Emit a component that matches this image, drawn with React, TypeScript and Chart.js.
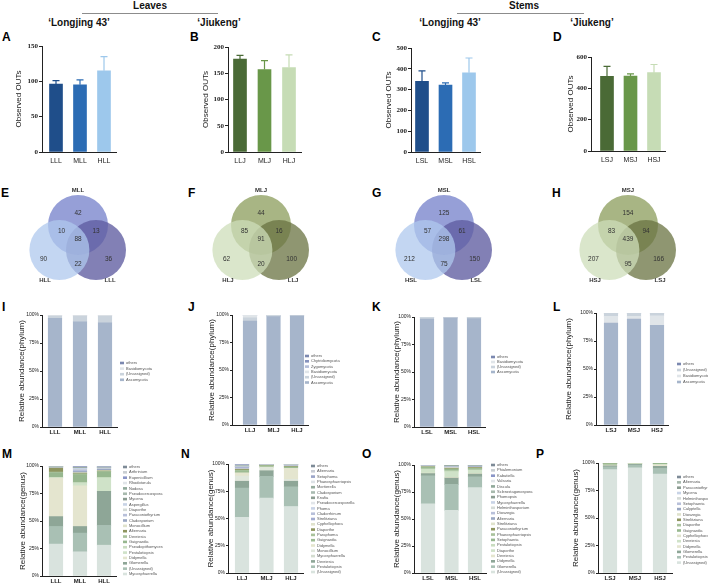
import React, { useEffect, useRef } from 'react';
import { Chart, registerables } from 'chart.js';

Chart.register(...registerables);

const SANS = '"Liberation Sans", Arial, Helvetica, sans-serif';
const SERIF = '"Liberation Serif", "Times New Roman", serif';
Chart.defaults.font.family = SANS;

// ================= DATA =================
// Row 1: observed OTUs (mean and SD)
const leafLongjingGroups = ['LLL', 'MLL', 'HLL'];
const leafLongjingOTUs = [96, 95, 115];
const leafLongjingSD = [5, 7, 20];
const leafJiukengGroups = ['LLJ', 'MLJ', 'HLJ'];
const leafJiukengOTUs = [177, 157, 161];
const leafJiukengSD = [7, 17, 24];
const stemLongjingGroups = ['LSL', 'MSL', 'HSL'];
const stemLongjingOTUs = [340, 322, 381];
const stemLongjingSD = [50, 10, 71];
const stemJiukengGroups = ['LSJ', 'MSJ', 'HSJ'];
const stemJiukengOTUs = [476, 479, 500];
const stemJiukengSD = [64, 13, 52];
const otuAxisMax = [150, 200, 500, 600];
const otuAxisStep = [50, 50, 100, 200];

// Row 2: Venn counts, regions: [top only, top&left, top&right, all, left only, left&right, right only]
const vennSetsE = ['MLL', 'HLL', 'LLL'];
const vennCountsE = [42, 10, 13, 88, 90, 22, 36];
const vennSetsF = ['MLJ', 'HLJ', 'LLJ'];
const vennCountsF = [44, 85, 16, 91, 62, 20, 100];
const vennSetsG = ['MSL', 'HSL', 'LSL'];
const vennCountsG = [125, 57, 61, 298, 212, 75, 150];
const vennSetsH = ['MSJ', 'HSJ', 'LSJ'];
const vennCountsH = [154, 83, 94, 439, 207, 95, 166];

// Row 3: phylum relative abundance (%), series listed bottom -> top
const phylumNamesI = ['Ascomycota', '(Unassigned)', 'Basidiomycota', 'others'];
const phylumValuesI = [[97, 94, 93], [2, 5, 6], [0.8, 0.8, 0.8], [0.2, 0.2, 0.2]];
const phylumNamesJ = ['Ascomycota', '(Unassigned)', 'Basidiomycota', 'Zygomycota', 'Chytridiomycota', 'others'];
const phylumValuesJ = [[94.5, 98.5, 99], [3, 1, 0.6], [2.2, 0.4, 0.3], [0.1, 0.03, 0.03], [0.1, 0.03, 0.03], [0.1, 0.04, 0.04]];
const phylumNamesK = ['Ascomycota', '(Unassigned)', 'Basidiomycota', 'others'];
const phylumValuesK = [[98, 99, 98.5], [1.5, 0.8, 1.2], [0.4, 0.15, 0.25], [0.1, 0.05, 0.05]];
const phylumNamesL = ['Ascomycota', 'Basidiomycota', '(Unassigned)', 'others'];
const phylumValuesL = [[91, 94.5, 89], [6, 2.5, 8.5], [2.9, 2.9, 2.4], [0.1, 0.1, 0.1]];

// Row 4: genus relative abundance (%), series listed bottom -> top
const genusNamesM = ['Mycosphaerella', '(Unassigned)', 'Glomerella', 'Didymella', 'Pestalotiopsis', 'Pseudopithomyces', 'Guignardia', 'Devriesia', 'Alternaria', 'Monocillium', 'Cladosporium', 'Paraconiothyrium', 'Diaporthe', 'Aspergillus', 'Mycena', 'Pseudocercospora', 'Nodosa', 'Rhodotorula', 'Eupenicillium', 'Arthrinium', 'others'];
const genusValuesM = [[29, 22, 28], [16, 17, 18], [9, 6, 31], [35, 37, 0], [0.3, 2, 12], [0.3, 1, 0.5], [4, 7, 5], [0.9, 1, 0.5], [3.5, 0.5, 0.5], [0.3, 0.5, 0.5], [0.3, 1, 1], [0.2, 1.5, 0.5], [0.2, 0.5, 0.3], [0.1, 1, 0.5], [0.1, 0.3, 0.2], [0.2, 0.2, 0.3], [0.1, 0.2, 0.2], [0.1, 0.1, 0.2], [0.2, 0.5, 0.5], [0.1, 0.2, 0.2], [0.1, 0.5, 0.1]];
const genusNamesN = ['(Unassigned)', 'Pestalotiopsis', 'Devriesia', 'Mycosphaerella', 'Monocillium', 'Didymella', 'Guignardia', 'Paraphoma', 'Diaporthe', 'Cyphellophora', 'Strelitziana', 'Cladorrhinum', 'Phoma', 'Pseudocercosporella', 'Knufia', 'Cladosporium', 'Mortierella', 'Phaeosphaeriopsis', 'Setophoma', 'Alternaria', 'others'];
const genusValuesN = [[51, 68.7, 61], [27, 20, 18], [6, 5, 5], [0.5, 0.5, 0.5], [4.5, 2.5, 1.5], [3, 0.5, 10], [1.5, 1, 1], [1, 0.3, 0.5], [0.5, 0.2, 0.3], [0.5, 0.2, 0.3], [1, 0.1, 0.2], [0.5, 0.1, 0.2], [0.3, 0.1, 0.5], [0.2, 0.1, 0.2], [0.3, 0.1, 0.1], [0.3, 0.1, 0.2], [0.2, 0.1, 0.1], [0.2, 0.1, 0.1], [1, 0.1, 0.1], [0.3, 0.1, 0.1], [0.2, 0.1, 0.1]];
const genusNamesO = ['(Unassigned)', 'Glomerella', 'Didymella', 'Devriesia', 'Diaporthe', 'Pestalotiopsis', 'Setophaeria', 'Phaeosphaeriopsis', 'Paraconiothyrium', 'Strelitziana', 'Alternaria', 'Dioszegia', 'Helminthosporium', 'Mycosphaerella', 'Phomopsis', 'Sclerostagonospora', 'Discula', 'Valsaria', 'Kabatiella', 'Phialemonium', 'others'];
const genusValuesO = [[64, 58, 79], [26, 24, 10], [2, 6, 2.5], [0.5, 0.5, 0.5], [3.5, 5, 3], [0.5, 1, 0.5], [1, 1.5, 1], [0.5, 0.5, 0.5], [0.3, 0.5, 0.5], [0.3, 0.5, 0.3], [0.3, 0.5, 0.5], [0.2, 0.3, 0.2], [0.2, 0.3, 0.2], [0.1, 0.2, 0.2], [0.1, 0.2, 0.2], [0.1, 0.2, 0.2], [0.1, 0.2, 0.2], [0.1, 0.1, 0.1], [0.1, 0.1, 0.1], [0.1, 0.1, 0.1], [0, 0.2, 0.2]];
const genusNamesP = ['(Unassigned)', 'Pestalotiopsis', 'Glomerella', 'Didymella', 'Devriesia', 'Cyphellophora', 'Guignardia', 'Diaporthe', 'Strelitziana', 'Dioszegia', 'Calyptella', 'Setophaeria', 'Helminthosporium', 'Mycena', 'Paraconiothyrium', 'Alternaria', 'others'];
const genusValuesP = [[94, 95.5, 90], [2.5, 2.5, 5], [1, 0.8, 2], [0.3, 0.2, 1], [0.2, 0.2, 0.5], [0.2, 0.1, 0.3], [1, 0.5, 0.8], [0.2, 0.1, 0.1], [0.1, 0.1, 0.05], [0.1, 0, 0.05], [0.1, 0, 0.05], [0.1, 0, 0.05], [0.05, 0, 0.05], [0.05, 0, 0.05], [0.05, 0, 0], [0.05, 0, 0], [0, 0.1, 0]];
const abundanceTicks = [0, 25, 50, 75, 100];

// ================= STYLES =================
const blueBars = ['#1f4e8a', '#2c6cb4', '#9dc8ec'];
const greenBars = ['#4a6a36', '#699749', '#c6dcb5'];
const phylumColors: Record<string, string> = {
  Ascomycota: '#a6b5cb', '(Unassigned)': '#cad3dc', Basidiomycota: '#e0e5e9',
  Zygomycota: '#b3bdd8', Chytridiomycota: '#8793bd', others: '#7b88b0',
};
const genusPalette = ['#d9e3de', '#a9c0b4', '#8ea697', '#e4e5cf', '#cfe2c8', '#c9dcc0', '#97b78f', '#a9c29c', '#8e955f', '#dfe2cc', '#9aa7c2', '#b8c0da', '#d5dbd7', '#c8d3e6', '#8b9c91', '#a7b9ad', '#90a99a', '#e1e5e9', '#8a95c7', '#c9ced2', '#7e8b97'];
const genusPaletteN = ['#d9e3de', '#a9c0b4', '#8ea697', '#d3dccf', '#e0e7dc', '#e4e5cf', '#9cbb93', '#a9c29c', '#8e955f', '#dfe2cc', '#a3acd0', '#b7bfd9', '#c9d3e6', '#e2e6ea', '#8d9d92', '#a8bab0', '#95ab9d', '#dde2e6', '#9aa4c8', '#c8ccd4', '#7e8b97'];
const genusPaletteP = ['#d9e3de', '#a9c0b4', '#8ea697', '#e4e5cf', '#cfe2c8', '#dfe2cc', '#98b88f', '#a9c29c', '#8e955f', '#dfe2cc', '#9aa7c2', '#b8c0da', '#d5dbd7', '#c8d3e6', '#8b9c91', '#a7b9ad', '#7e8b97'];
const vennBlue = ['rgba(175,200,238,0.75)', 'rgba(95,92,160,0.78)', 'rgba(110,122,200,0.72)']; // left, right, top
const vennGreen = ['rgba(205,222,185,0.75)', 'rgba(105,115,65,0.75)', 'rgba(135,152,85,0.72)'];

// Venn geometry (unit = circle radius), order: top, left, right
const vennCircleCenters = [[0, 0.57], [-0.62, -0.27], [0.6, -0.27]];
const vennRegionPos = [[0, 0.97], [-0.55, 0.37], [0.6, 0.37], [0, 0.1], [-1.15, -0.57], [0, -0.73], [1.02, -0.57]];
const vennNamePos = [[0, 1.73], [-1.1, -1.27], [1.07, -1.27]];

// ================= PLUGINS =================
const errorBarPlugin = {
  id: 'errorBars',
  afterDatasetsDraw(chart: any, _a: any, opts: any) {
    if (!opts || !opts.sd) return;
    const meta = chart.getDatasetMeta(0);
    const ys = chart.scales.y;
    const ctx = chart.ctx;
    const data = chart.data.datasets[0].data;
    ctx.save();
    meta.data.forEach((bar: any, i: number) => {
      const yTop = ys.getPixelForValue(data[i].y + opts.sd[i]);
      ctx.strokeStyle = opts.colors[i];
      ctx.lineWidth = 1.2;
      ctx.beginPath();
      ctx.moveTo(bar.x, bar.y);
      ctx.lineTo(bar.x, yTop);
      ctx.moveTo(bar.x - 3.5, yTop);
      ctx.lineTo(bar.x + 3.5, yTop);
      ctx.stroke();
    });
    ctx.restore();
  },
};

const sideLegendPlugin = {
  id: 'sideLegend',
  afterDraw(chart: any, _a: any, o: any) {
    if (!o || o.x === undefined) return;
    const ctx = chart.ctx;
    const ds = chart.data.datasets;
    ctx.save();
    ctx.font = `4px ${SANS}`;
    ctx.textBaseline = 'middle';
    ctx.textAlign = 'left';
    for (let k = 0; k < ds.length; k++) {
      const d = ds[ds.length - 1 - k];
      const y = o.y - o.top + k * o.step;
      const x = o.x - o.left;
      ctx.fillStyle = d.backgroundColor;
      ctx.fillRect(x, y - 1.3, 4, 2.6);
      ctx.fillStyle = '#555';
      ctx.fillText(d.label, x + 6, y);
    }
    ctx.restore();
  },
};

const vennTextPlugin = {
  id: 'vennText',
  afterDatasetsDraw(chart: any, _a: any, o: any) {
    if (!o || !o.counts) return;
    const xs = chart.scales.x;
    const ys = chart.scales.y;
    const ctx = chart.ctx;
    ctx.save();
    ctx.textAlign = 'center';
    ctx.textBaseline = 'middle';
    ctx.fillStyle = '#333';
    ctx.font = `6.5px ${SANS}`;
    o.counts.forEach((c: number, i: number) => {
      ctx.fillText(String(c), xs.getPixelForValue(vennRegionPos[i][0]), ys.getPixelForValue(vennRegionPos[i][1]));
    });
    ctx.font = `bold 6px ${SANS}`;
    o.names.forEach((n: string, i: number) => {
      ctx.fillText(n, xs.getPixelForValue(vennNamePos[i][0]), ys.getPixelForValue(vennNamePos[i][1]));
    });
    ctx.restore();
  },
};

// ================= BUILDERS =================
type Box = { left: number; top: number; width: number; height: number };
type Panel = { key: string; box: Box; build: () => any };

type XYSpec = {
  key: string; left: number; top: number; bottom: number;
  axisX: number; areaTop: number; areaBottom: number;
  c1: number; sp: number; barW: number; titleX: number; title: string;
  labels: string[]; datasets: any[]; yMax: number; yStep: number;
  obs: boolean; legend?: { x: number; y: number; step: number };
  errors?: { sd: number[]; colors: string[] };
};

function xyPanel(s: XYSpec): Panel {
  const n = s.labels.length;
  const xmin = 1 - (s.c1 - s.axisX) / s.sp;
  const xmax = n + 0.5;
  const areaRight = s.axisX + (xmax - xmin) * s.sp;
  const right = s.legend ? s.legend.x + 62 : areaRight + 8;
  const box = { left: s.left, top: s.top, width: Math.round(right - s.left), height: s.bottom - s.top };
  const titleSize = 8;
  const lh = titleSize * 1.2;
  const build = () => ({
    type: 'bar',
    data: {
      datasets: s.datasets.map((d) => ({ ...d, grouped: false, barThickness: s.barW, borderWidth: 0 })),
    },
    options: {
      responsive: false,
      animation: false,
      events: [],
      layout: { padding: { left: 0, top: s.areaTop - s.top, right: box.width - (areaRight - s.left), bottom: 0 } },
      plugins: {
        legend: { display: false },
        tooltip: { enabled: false },
        errorBars: s.errors ? { sd: s.errors.sd, colors: s.errors.colors } : false,
        sideLegend: s.legend ? { x: s.legend.x, y: s.legend.y, step: s.legend.step, left: s.left, top: s.top } : false,
      },
      scales: {
        x: {
          type: 'linear', min: xmin, max: xmax, offset: false,
          afterFit: (sc: any) => { sc.height = box.top + box.height - s.areaBottom; },
          afterBuildTicks: (sc: any) => { sc.ticks = s.labels.map((_, i) => ({ value: i + 1 })); },
          grid: { display: false, drawTicks: false, offset: false },
          border: { display: true, color: '#222', width: 1 },
          ticks: {
            autoSkip: false, maxRotation: 0, padding: s.obs ? 5 : 2, color: '#222',
            font: s.obs ? { family: SANS, size: 7 } : { family: SANS, size: 6, weight: 'bold' },
            callback: (v: any) => s.labels[Math.round(v) - 1] ?? '',
          },
        },
        y: {
          type: 'linear', min: 0, max: s.yMax, stacked: !s.obs,
          afterFit: (sc: any) => { sc.width = s.axisX - s.left; },
          grid: { drawOnChartArea: false, drawTicks: true, tickLength: s.obs ? 3 : 2, color: '#222', lineWidth: 1 },
          border: { display: true, color: '#222', width: 1 },
          ticks: {
            stepSize: s.yStep, padding: 1, color: '#222',
            font: s.obs ? { family: SERIF, size: 7, weight: 'bold' } : { family: SANS, size: 5 },
            callback: (v: any) => (s.obs ? String(v) : v + '%'),
          },
          title: {
            display: true, text: s.title, color: '#222',
            font: { family: SANS, size: titleSize },
            padding: { top: s.titleX - s.left - lh / 2, bottom: 0 },
          },
        },
      },
    },
    plugins: [errorBarPlugin, sideLegendPlugin],
  });
  return { key: s.key, box, build };
}

function obsPanel(key: string, left: number, axisX: number, c1: number, sp: number, areaTop: number, areaBottom: number, titleX: number,
  labels: string[], values: number[], sd: number[], colors: string[], yMax: number, yStep: number): Panel {
  return xyPanel({
    key, left, top: 30, bottom: 175, axisX, areaTop, areaBottom, c1, sp, barW: 13, titleX,
    title: 'Observed OUTs', labels, yMax, yStep, obs: true,
    datasets: [{ data: values.map((v, i) => ({ x: i + 1, y: v })), backgroundColor: colors }],
    errors: { sd, colors },
  });
}

function abundPanel(key: string, left: number, top: number, bottom: number, axisX: number, c1: number, sp: number, areaTop: number, areaBottom: number,
  titleX: number, title: string, labels: string[], names: string[], values: number[][], colors: string[], legend: { x: number; y: number; step: number }): Panel {
  return xyPanel({
    key, left, top, bottom, axisX, areaTop, areaBottom, c1, sp, barW: 13.5, titleX, title, labels,
    yMax: abundanceTicks[abundanceTicks.length - 1], yStep: abundanceTicks[1] - abundanceTicks[0], obs: false, legend,
    datasets: names.map((nm, k) => ({ label: nm, data: values[k].map((v, i) => ({ x: i + 1, y: v })), backgroundColor: colors[k] })),
  });
}

function vennPanel(key: string, cx: number, names: string[], counts: number[], colors: string[]): Panel {
  const box = { left: cx - 60, top: 182, width: 120, height: 120 };
  const order = [1, 2, 0]; // draw left, right, then top
  const build = () => ({
    type: 'scatter',
    data: {
      datasets: order.map((ci, k) => ({
        data: [{ x: vennCircleCenters[ci][0], y: vennCircleCenters[ci][1] }],
        backgroundColor: colors[k],
        borderWidth: 0,
        clip: false,
        pointRadius: (ctx: any) => {
          const sx = ctx.chart.scales.x;
          return Math.abs(sx.getPixelForValue(1) - sx.getPixelForValue(0));
        },
      })),
    },
    options: {
      responsive: false, animation: false, events: [],
      layout: { padding: 0 },
      plugins: { legend: { display: false }, tooltip: { enabled: false }, vennText: { counts, names } },
      scales: { x: { display: false, min: -2, max: 2 }, y: { display: false, min: -2, max: 2 } },
    },
    plugins: [vennTextPlugin],
  });
  return { key, box, build };
}

// ================= PANELS =================
const panels: Panel[] = [
  obsPanel('A', 0, 42, 56, 24, 46, 152, 19, leafLongjingGroups, leafLongjingOTUs, leafLongjingSD, blueBars, otuAxisMax[0], otuAxisStep[0]),
  obsPanel('B', 186, 228, 240, 24.5, 47, 152, 206, leafJiukengGroups, leafJiukengOTUs, leafJiukengSD, greenBars, otuAxisMax[1], otuAxisStep[1]),
  obsPanel('C', 370, 411, 422, 23.5, 48, 152, 389, stemLongjingGroups, stemLongjingOTUs, stemLongjingSD, blueBars, otuAxisMax[2], otuAxisStep[2]),
  obsPanel('D', 550, 591, 607, 23.5, 57, 151, 571, stemJiukengGroups, stemJiukengOTUs, stemJiukengSD, greenBars, otuAxisMax[3], otuAxisStep[3]),
  vennPanel('E', 78, vennSetsE, vennCountsE, vennBlue),
  vennPanel('F', 261, vennSetsF, vennCountsF, vennGreen),
  vennPanel('G', 444, vennSetsG, vennCountsG, vennBlue),
  vennPanel('H', 628, vennSetsH, vennCountsH, vennGreen),
  abundPanel('I', 0, 300, 441, 42, 55, 25, 315, 427, 22, 'Relative abundance(phylum)', leafLongjingGroups, phylumNamesI, phylumValuesI, phylumNamesI.map((n) => phylumColors[n]), { x: 120, y: 363, step: 5.6 }),
  abundPanel('J', 190, 300, 439, 232, 250, 23.5, 315, 425, 212, 'Relative abundance(phylum)', leafJiukengGroups, phylumNamesJ, phylumValuesJ, phylumNamesJ.map((n) => phylumColors[n]), { x: 305, y: 356, step: 5.3 }),
  abundPanel('K', 372, 300, 441, 414, 427, 23.5, 317, 427, 397, 'Relative abundance(phylum)', stemLongjingGroups, phylumNamesK, phylumValuesK, phylumNamesK.map((n) => phylumColors[n]), { x: 491, y: 357, step: 5 }),
  abundPanel('L', 553, 300, 439, 596, 611, 23, 313, 425, 569, 'Relative abundance(phylum)', stemJiukengGroups, phylumNamesL, phylumValuesL, phylumNamesL.map((n) => phylumColors[n]), { x: 677, y: 364, step: 6 }),
  abundPanel('M', 0, 455, 585, 42, 56, 24, 466, 576, 23, 'Relative abundance(genus)', leafLongjingGroups, genusNamesM, genusValuesM, genusPalette, { x: 123, y: 467, step: 5.35 }),
  abundPanel('N', 185, 455, 585, 228, 242, 24.5, 464, 573, 211, 'Relative abundance(genus)', leafJiukengGroups, genusNamesN, genusValuesN, genusPaletteN, { x: 311, y: 466, step: 5.3 }),
  abundPanel('O', 372, 455, 585, 414, 428, 23.5, 465, 573, 397, 'Relative abundance(genus)', stemLongjingGroups, genusNamesO, genusValuesO, genusPalette, { x: 491, y: 465, step: 5.35 }),
  abundPanel('P', 555, 455, 585, 598, 610, 25, 463, 573, 576, 'Relative abundance(genus)', stemJiukengGroups, genusNamesP, genusValuesP, genusPaletteP, { x: 677, y: 477, step: 5.35 }),
];

const panelLetters: [string, number, number][] = [
  ['A', 2, 30], ['B', 190, 30], ['C', 372, 30], ['D', 553, 30],
  ['E', 1, 186], ['F', 188, 186], ['G', 372, 186], ['H', 552, 186],
  ['I', 2, 300], ['J', 188, 300], ['K', 372, 300], ['L', 553, 300],
  ['M', 2, 447], ['N', 181, 447], ['O', 362, 447], ['P', 536, 447],
];

const headings: [string, number, number][] = [
  ['Leaves', 150, 5.5], ['Stems', 524, 5.5],
  ['\u2018Longjing 43\u2019', 79, 22.5], ['\u2018Jiukeng\u2019', 219, 22.5],
  ['\u2018Longjing 43\u2019', 450, 22.5], ['\u2018Jiukeng\u2019', 592, 22.5],
];

function ChartCanvas({ box, build }: { box: Box; build: () => any }) {
  const ref = useRef<HTMLCanvasElement>(null);
  useEffect(() => {
    const chart = new Chart(ref.current as HTMLCanvasElement, build());
    return () => chart.destroy();
  }, []);
  return (
    <canvas
      ref={ref}
      width={box.width}
      height={box.height}
      style={{ position: 'absolute', left: box.left, top: box.top, width: box.width, height: box.height }}
    />
  );
}

export default function App() {
  return (
    <div style={{ position: 'fixed', left: 0, top: 0, width: 708, height: 585, background: '#fff', overflow: 'hidden', fontFamily: SANS }}>
      {headings.map(([t, x, y], i) => (
        <div key={'h' + i} style={{ position: 'absolute', left: x, top: y - 5, transform: 'translateX(-50%)', fontSize: 10, fontWeight: 'bold', lineHeight: 1, whiteSpace: 'nowrap', color: '#111' }}>{t}</div>
      ))}
      <div style={{ position: 'absolute', left: 82, top: 13, width: 136, height: 1, background: '#8c8c8c' }} />
      <div style={{ position: 'absolute', left: 457, top: 13, width: 127, height: 1, background: '#8c8c8c' }} />
      {panelLetters.map(([t, x, y]) => (
        <div key={'l' + t} style={{ position: 'absolute', left: x, top: y, fontSize: 12, fontWeight: 'bold', lineHeight: 1.2, color: '#000' }}>{t}</div>
      ))}
      {panels.map((p) => (
        <ChartCanvas key={p.key} box={p.box} build={p.build} />
      ))}
    </div>
  );
}
